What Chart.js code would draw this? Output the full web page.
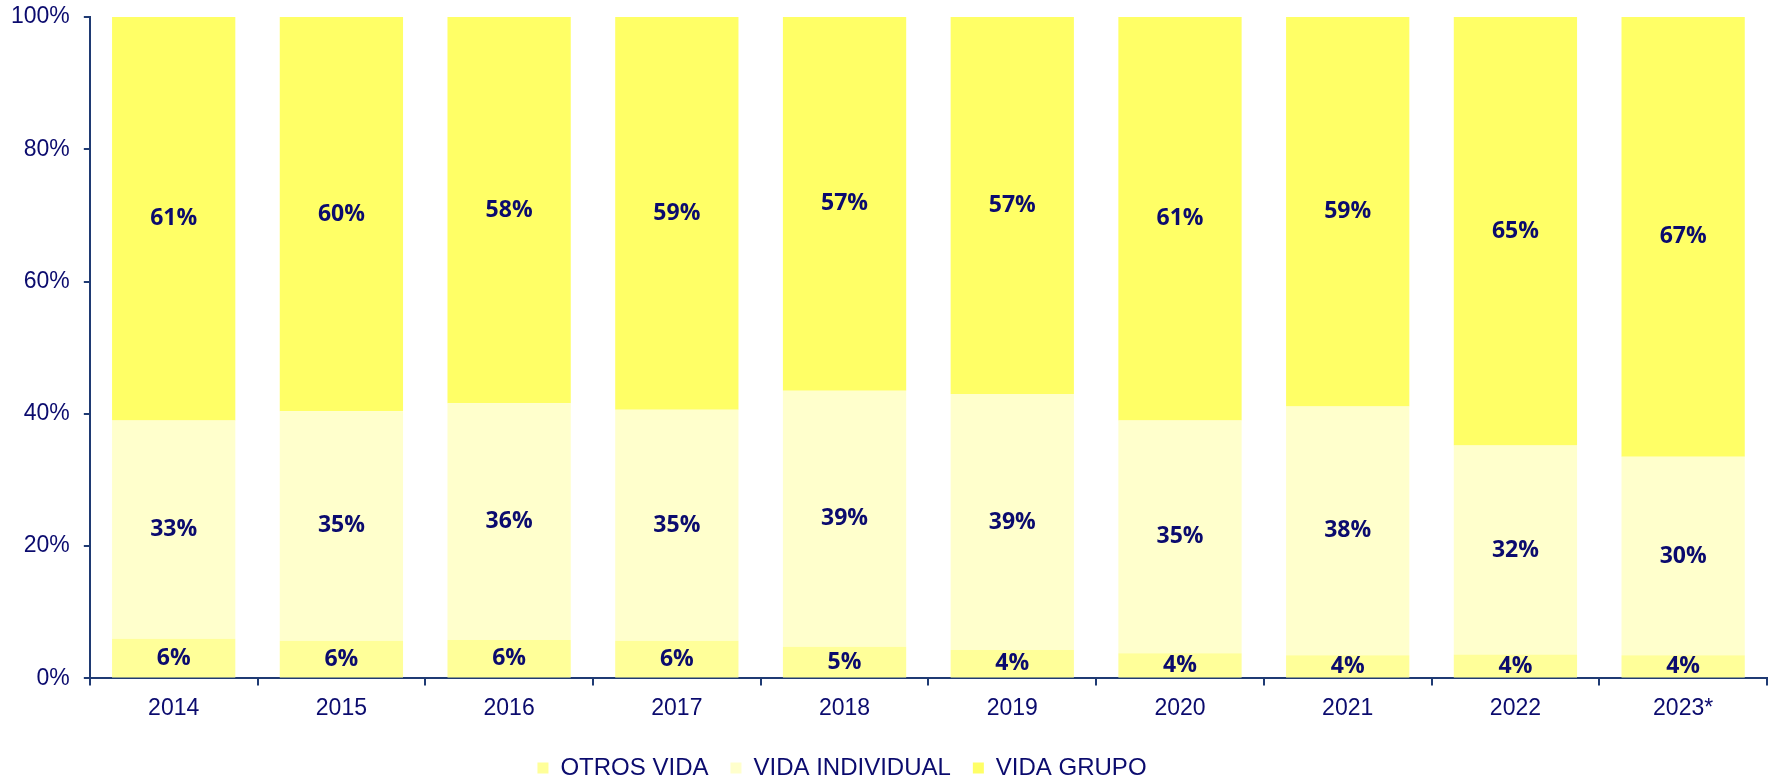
<!DOCTYPE html>
<html>
<head>
<meta charset="utf-8">
<script src="https://cdn.jsdelivr.net/npm/chart.js@4.4.0/dist/chart.umd.min.js"></script>
<style>
  body { margin: 0; background: #fff; }
  #wrap { width: 1777px; height: 779px; }
</style>
</head>
<body>
<div id="wrap"><canvas id="myChart"></canvas></div>
<script>
var years = ['2014', '2015', '2016', '2017', '2018', '2019', '2020', '2021', '2022', '2023*'];
var otrosVida = [6.0, 5.7, 5.8, 5.7, 4.8, 4.3, 3.8, 3.5, 3.6, 3.5];
var vidaIndividual = [33.0, 34.7, 35.8, 34.9, 38.7, 38.7, 35.2, 37.6, 31.6, 30.0];
var vidaGrupo = [61.0, 59.6, 58.4, 59.4, 56.5, 57.0, 61.0, 58.9, 64.8, 66.5];
var yTicks = [0, 20, 40, 60, 80, 100];

var navy = '#0B0B6E';
var axisColor = '#1F3A73';

// write the rounded % in the middle of every segment
var segmentLabels = {
    id: 'segmentLabels',
    afterDatasetsDraw: function(chart) {
        var ctx = chart.ctx;
        ctx.save();
        ctx.font = 'bold 23px "Open Sans"';
        ctx.fillStyle = navy;
        ctx.textAlign = 'center';
        ctx.textBaseline = 'middle';
        chart.data.datasets.forEach(function(ds, i) {
            var meta = chart.getDatasetMeta(i);
            meta.data.forEach(function(bar, j) {
                var v = ds.data[j];
                ctx.fillText(Math.round(v) + '%', bar.x, (bar.y + bar.base) / 2);
            });
        });
        ctx.restore();
    }
};

// legend sits a bit left of centre in the original
var legendShift = {
    id: 'legendShift',
    afterLayout: function(chart) {
        chart.legend.left -= 40;
        chart.legend.right -= 40;
    }
};

var ctx = document.getElementById('myChart');
var myChart = new Chart(ctx, {
    type: 'bar',
    data: {
        labels: years,
        datasets: [
            { label: 'OTROS VIDA', data: otrosVida, backgroundColor: '#FFFF99' },
            { label: 'VIDA INDIVIDUAL', data: vidaIndividual, backgroundColor: '#FFFFCC' },
            { label: 'VIDA GRUPO', data: vidaGrupo, backgroundColor: '#FFFF66' }
        ]
    },
    options: {
        responsive: true,
        maintainAspectRatio: false,
        animation: false,
        barPercentage: 0.735,
        categoryPercentage: 1,
        layout: { padding: { left: -3, right: 10, top: 17, bottom: -11 } },
        plugins: {
            tooltip: { enabled: false },
            legend: {
                position: 'bottom',
                labels: {
                    boxWidth: 11,
                    boxHeight: 11,
                    padding: 22,
                    color: navy,
                    font: { family: '"Liberation Sans", Arial', size: 24 }
                }
            }
        },
        scales: {
            x: {
                stacked: true,
                grid: { drawOnChartArea: false, offset: true, tickLength: 7, color: axisColor, lineWidth: 2 },
                border: { color: axisColor, width: 2 },
                ticks: { color: navy, padding: 9, font: { family: '"Liberation Sans", Arial', size: 23 } },
                afterFit: function(scale) { scale.height += 3; }
            },
            y: {
                stacked: true,
                min: 0,
                max: 100,
                afterBuildTicks: function(scale) {
                    scale.ticks = yTicks.map(function(v) { return { value: v }; });
                },
                afterFit: function(scale) {
                    scale.paddingTop = 0;
                    scale.paddingBottom = 0;
                },
                grid: { drawOnChartArea: false, tickLength: 6, color: axisColor, lineWidth: 2 },
                border: { color: axisColor, width: 2 },
                ticks: {
                    color: navy,
                    padding: 14,
                    font: { family: '"Liberation Sans", Arial', size: 23 },
                    callback: function(v) { return v + '%'; }
                }
            }
        }
    },
    plugins: [segmentLabels, legendShift]
});
</script>
</body>
</html>
